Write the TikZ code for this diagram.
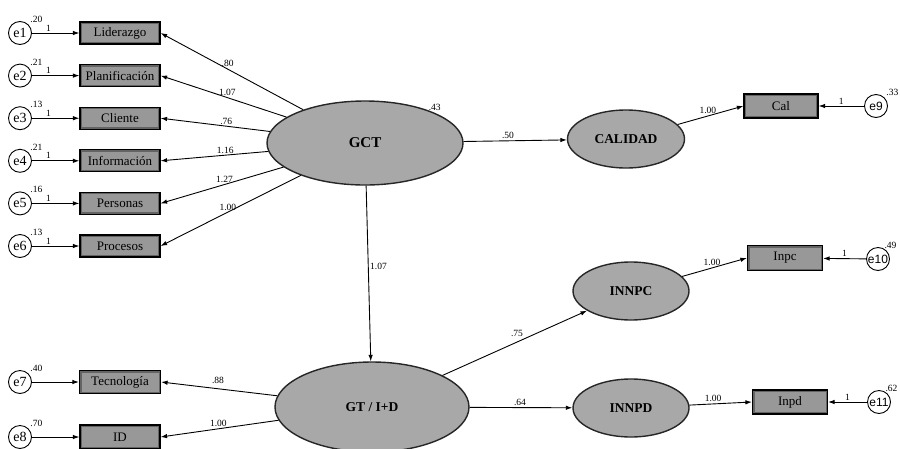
\documentclass[tikz,border=0pt]{standalone}
\usepackage{fontspec}
\setmainfont{Liberation Serif}
\newfontfamily\errsans{Liberation Sans}
\usetikzlibrary{shapes.geometric, arrows.meta}

\definecolor{boxgray}{RGB}{152,152,152}
\definecolor{boxedge}{RGB}{100,100,100}
\definecolor{latgray}{RGB}{168,168,168}

\tikzset{
	indicator/.style = {draw, line width = 1.2pt, fill = boxgray, minimum width = 80pt, minimum height = 22pt, inner sep = 0pt, font = \fontsize{13}{13}\selectfont,
		path picture = {\draw [boxedge, line width = 4pt] (path picture bounding box.south west) rectangle (path picture bounding box.north east);}},
	latent/.style = {ellipse, draw = black!85, line width = 1.4pt, fill = latgray, minimum width = 117pt, minimum height = 58pt, inner sep = 0pt, font = \bfseries\fontsize{13.5}{13.5}\selectfont},
	errterm/.style = {circle, draw, line width = 0.9pt, fill = white, minimum size = 23pt, inner sep = 0pt, font = \fontsize{14}{14}\selectfont},
	coef/.style = {font = \fontsize{9.5}{9.5}\selectfont, inner sep = 1.5pt}
}

\begin{document}
\begin{tikzpicture}[> = {Latex[length = 6.5pt, width = 4.5pt]}, x = 1pt, y = -1pt, line width = 0.9pt]

	% Picture frame (bottom row is cut off)
	
	\useasboundingbox (0, 0) rectangle (900, 448);
	\clip (0, 0) rectangle (900, 448);
	
	% Latent variables
	
	\node [latent, minimum width = 196pt, minimum height = 84pt, font = \bfseries\fontsize{15}{15}\selectfont] (GCT) at (365, 143) {GCT};
	\node [latent, minimum width = 194pt, minimum height = 90pt] (GT) at (372, 407) {GT / I+D};
	\node [latent] (CAL) at (626, 139) {CALIDAD};
	\node [latent, minimum width = 116pt] (INNPC) at (631, 291) {INNPC};
	\node [latent, minimum width = 116pt] (INNPD) at (631, 408) {INNPD};
	
	\node [coef, anchor = south] (vGCT) at (GCT.north east) {.43};
	
	% GCT indicators with their error terms
	
	\foreach \i/\name/\lam/\var/\p in {1/Liderazgo/.80/.20/0.53, 2/Planificación/1.07/.21/0.47, 3/Cliente/.76/.13/0.4, 4/Información/1.16/.21/0.4, 5/Personas/1.27/.16/0.48, 6/Procesos/1.00/.13/0.52}
	{
	
		% Row height of indicator \i
		
		\pgfmathsetmacro{\yy}{33 + (\i - 1) * 42.6}
		
		\node [indicator] (ind\i) at (120, \yy) {\name};
		\node [errterm] (e\i) at (20, \yy) {e\i};
		\node [coef, anchor = south west] (v\i) at (e\i.north east) {\var};
		
		% Error path and loading
		
		\draw [->] (e\i) -- node [coef, above, pos = 0.35] {1} (ind\i);
		\draw [->] (GCT) -- node [coef, above, pos = \p] {\lam} (ind\i.east);
	}
	
	% GT / I+D indicators
	
	\node [indicator, minimum width = 81pt, minimum height = 23pt] (Tec) at (120, 382) {Tecnología};
	\node [indicator, minimum height = 24pt] (ID) at (120, 437) {ID};
	\node [errterm] (e7) at (20, 382) {e7};
	\node [errterm] (e8) at (20, 437) {e8};
	\node [coef, anchor = south west] (v7) at (e7.north east) {.40};
	\node [coef, anchor = south west] (v8) at (e8.north east) {.70};
	
	\draw [->] (e7) -- (Tec);
	\draw [->] (e8) -- (ID);
	\draw [->] (GT) -- node [coef, above = 3pt, pos = 0.51] {.88} (Tec.east);
	\draw [->] (GT) -- node [coef, above, pos = 0.51] {1.00} (ID.east);
	
	% Right-hand indicators
	
	\node [indicator, minimum width = 74pt, minimum height = 24pt] (Cal) at (781, 106) {Cal};
	\node [indicator, minimum width = 75pt, minimum height = 25pt] (Inpc) at (785, 258) {Inpc};
	\node [indicator, minimum width = 75pt, minimum height = 24pt] (Inpd) at (790, 402) {Inpd};
	
	\node [errterm, font = \errsans\fontsize{12}{12}\selectfont] (e9) at (876, 106) {e9};
	\node [errterm, font = \errsans\fontsize{12}{12}\selectfont] (e10) at (878, 259) {e10};
	\node [errterm, font = \errsans\fontsize{12}{12}\selectfont] (e11) at (879, 402) {e11};
	\node [coef, anchor = south west] (v9) at (e9.north east) {.33};
	\node [coef, anchor = south, xshift = 4pt] (v10) at (e10.north east) {.49};
	\node [coef, anchor = south, xshift = 4pt] (v11) at (e11.north east) {.62};
	
	\draw [->] (e9) -- node [coef, above] {1} (Cal);
	\draw [->] (e10) -- node [coef, above] {1} (Inpc);
	\draw [->] (e11) -- node [coef, above] {1} (Inpd);
	
	% Structural paths
	
	\draw [->] (GCT) -- node [coef, above, pos = 0.43] {.50} (CAL);
	\draw [->] (GCT) -- node [coef, right, pos = 0.46] {1.07} (GT);
	\draw [->] (GT) -- node [coef, above left, pos = 0.57] {.75} (INNPC);
	\draw [->] (GT) -- node [coef, above, pos = 0.49] {.64} (INNPD);
	
	% Loadings of single indicators
	
	\draw [->] (CAL) -- node [coef, above, pos = 0.46] {1.00} (Cal.west);
	\draw [->] (INNPC) -- node [coef, above, pos = 0.46] {1.00} (Inpc.west);
	\draw [->] (INNPD) -- node [coef, above, pos = 0.38] {1.00} (Inpd.west);

\end{tikzpicture}
\end{document}
